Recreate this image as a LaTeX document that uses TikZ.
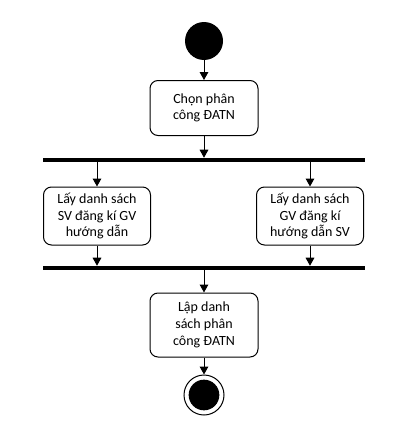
\documentclass[tikz,border=0pt]{standalone}
\usepackage{fontspec}
\setmainfont{Carlito}
\usetikzlibrary{arrows.meta}
\begin{document}
\begin{tikzpicture}[x=0.75pt,y=-0.75pt,
  actbox/.style={draw,line width=0.75pt,rounded corners=6pt,align=center,inner sep=2pt,
    font=\fontsize{10.5}{12.5}\selectfont},
  forkbar/.style={fill=black,draw=none,inner sep=0pt,minimum width=241.5pt,minimum height=3pt},
  arr/.style={line width=0.75pt,-{Triangle[length=6pt,width=6.5pt]}}]
\useasboundingbox (0,0) rectangle (409,439);
\node[circle,fill=black,minimum size=28.5pt,inner sep=0pt] (start) at (204,41) {};
\node[actbox,minimum width=81pt,minimum height=41.25pt] (c1) at (204,108) {Chọn phân\\công ĐATN};
\node[forkbar] (bar1) at (204,160) {};
\node[actbox,minimum width=80.25pt,minimum height=43.5pt] (l1) at (97,216) {Lấy danh sách\\SV đăng kí GV\\hướng dẫn};
\node[actbox,minimum width=80.25pt,minimum height=43.5pt] (r1) at (310,216) {Lấy danh sách\\GV đăng kí\\hướng dẫn SV};
\node[forkbar] (bar2) at (204,268) {};
\node[actbox,minimum width=81pt,minimum height=48pt] (c2) at (204,325) {Lập danh\\sách phân\\công ĐATN};
\node[circle,draw,line width=0.75pt,minimum size=30pt,inner sep=0pt] (endo) at (204,395) {};
\node[circle,fill=black,minimum size=23pt,inner sep=0pt] (endi) at (endo) {};
\draw[arr] (start) -- (c1);
\draw[arr] (c1) -- (c1.south |- bar1.north);
\draw[arr] (bar1.south -| l1) -- (l1);
\draw[arr] (bar1.south -| r1) -- (r1);
\draw[arr] (l1) -- (l1 |- bar2.north);
\draw[arr] (r1) -- (r1 |- bar2.north);
\draw[arr] (bar2) -- (c2);
\draw[arr] (c2) -- (endo);
\end{tikzpicture}
\end{document}
